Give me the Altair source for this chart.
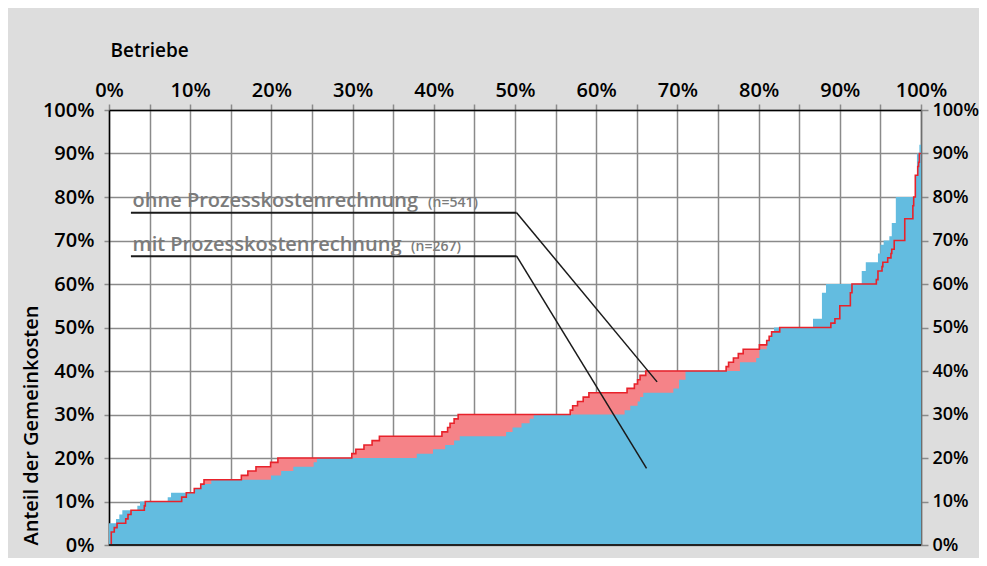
import altair as alt
import pandas as pd

# ---- data ----
# "ohne Prozesskostenrechnung" (red), step positions: share of companies (%) -> share of overhead (%)
red_x = [0, 0.28, 0.65, 0.99, 2.06, 2.34, 2.71, 4.35, 4.47, 8.95, 9.52, 10.5, 11.3, 11.7,
         16.3, 17.1, 18.1, 19.9, 20.8, 29.9, 30.4, 31.4, 32.4, 33.3, 41.0, 41.7, 42.0, 42.5,
         43.0, 56.8, 57.1, 57.7, 58.4, 59.1, 63.8, 64.7, 65.1, 65.4, 66.1, 76.0, 76.3, 76.9,
         77.5, 78.1, 80.1, 81.0, 81.3, 81.6, 82.6, 88.9, 89.4, 90.0, 91.3, 91.5, 94.5, 94.7,
         95.2, 95.3, 95.9, 96.3, 96.4, 96.7, 98.0, 99.0, 99.1, 99.3, 99.6, 99.7, 99.8, 100]
red_y = [0, 3, 4, 5, 6, 7, 8, 9, 10, 11, 12, 13, 14, 15,
         16, 17, 18, 19, 20, 21, 22, 23, 24, 25, 26, 27, 28, 29,
         30, 31, 32, 33, 34, 35, 36, 37, 38, 39, 40, 41, 42, 43,
         44, 45, 46, 47, 48, 49, 50, 51, 52, 55, 58, 60, 61, 63,
         64, 65, 66, 67, 68, 70, 75, 78, 80, 85, 87, 88, 90, 90]

# "mit Prozesskostenrechnung" (blue)
blue_x = [0, 0.86, 1.27, 1.64, 3.49, 3.82, 7.23, 7.64, 10.5, 11.3, 12.6, 19.95, 21.2, 22.7,
          25.2, 25.6, 37.9, 39.9, 41.4, 42.5, 43.2, 48.9, 49.7, 50.8, 51.8, 52.3, 63.5, 64.2,
          65.1, 65.4, 65.8, 69.5, 70.2, 71.0, 77.7, 79.7, 80.1, 81.0, 81.3, 81.6, 81.9, 86.7,
          87.8, 88.3, 92.7, 93.2, 94.7, 95.0, 95.4, 96.1, 96.4, 96.9, 99.3, 99.5, 99.8, 100]
blue_y = [5, 6, 7, 8, 9, 10, 11, 12, 13, 14, 15, 16, 17, 18,
          19, 20, 21, 22, 23, 24, 25, 26, 27, 28, 29, 30, 31, 32,
          33, 34, 35, 36, 38, 40, 42, 43, 45, 47, 48, 49, 50, 52,
          58, 60, 63, 65, 67, 69, 70, 71, 74, 80, 85, 90, 92, 92]

x_ticks = list(range(0, 101, 5))
y_ticks = list(range(0, 101, 10))

labels = ["ohne Prozesskostenrechnung", "mit Prozesskostenrechnung"]
counts = ["(n=541)", "(n=267)"]
label_x = [2.9, 2.9]
label_y = [77.8, 67.7]
count_x = [39.3, 37.2]
line_x = [2.7, 2.7]
line_x2 = [50.2, 50.2]
line_y = [76.4, 66.4]
pointer_x = [67.5, 66.2]
pointer_y = [37.5, 17.6]

# ---- styles ----
FONT = "Open Sans"
GRID = "#8a8a8a"
RED_FILL = "#f58388"
RED_LINE = "#e8222b"
BLUE = "#63bce0"

ohne = pd.DataFrame({"x": red_x, "y": red_y})
mit = pd.DataFrame({"x": blue_x, "y": blue_y})
ann = pd.DataFrame({"label": labels, "count": counts, "lx": label_x, "ly": label_y,
                    "cx": count_x, "x": line_x, "x2": line_x2, "y": line_y,
                    "px": pointer_x, "py": pointer_y})

xscale = alt.Scale(domain=[0, 100], nice=False, zero=False)
yscale = alt.Scale(domain=[0, 100], nice=False, zero=False)

x_axis = alt.Axis(orient="top", values=x_ticks,
                  labelExpr="datum.value % 10 == 0 ? datum.value + '%' : ''",
                  labelFlush=False, labelOverlap=False, labelPadding=4,
                  labelFont=FONT, labelFontSize=20, labelFontWeight=600, labelColor="black",
                  tickSize=6, tickColor=GRID, tickWidth=1.5,
                  grid=True, gridColor=GRID, gridWidth=1.5,
                  domainColor="black", domainWidth=1.5,
                  title="Betriebe", titleFont=FONT, titleFontSize=19, titleFontWeight=600,
                  titleColor="black", titleAlign="left", titleBaseline="alphabetic",
                  titleX=1, titleY=-54, titleAnchor="start")

y_axis_left = alt.Axis(orient="left", values=y_ticks,
                       labelExpr="datum.value + '%'",
                       labelFlush=False, labelOverlap=False, labelPadding=10,
                       labelFont=FONT, labelFontSize=20, labelFontWeight=600, labelColor="black",
                       tickSize=5, tickColor=GRID, tickWidth=1.5,
                       grid=True, gridColor=GRID, gridWidth=1.5,
                       domainColor="black", domainWidth=1.5,
                       title="Anteil der Gemeinkosten", titleFont=FONT, titleFontSize=20,
                       titleFontWeight=600, titleColor="black", titleAngle=270,
                       titleAlign="left", titleBaseline="middle", titleX=-78, titleY=435)

y_axis_right = alt.Axis(orient="right", values=y_ticks,
                        labelExpr="datum.value + '%'",
                        labelFlush=False, labelOverlap=False, labelPadding=4,
                        labelFont=FONT, labelFontSize=18, labelFontWeight=600, labelColor="black",
                        tickSize=7, tickColor=GRID, tickWidth=1.5,
                        grid=False, domainColor="#6e6e6e", domainWidth=1.5, title=None)


def X(field):
    return alt.X(field, type="quantitative", scale=xscale, axis=x_axis)


red_area = alt.Chart(ohne).mark_area(interpolate="step-after", color=RED_FILL, opacity=1).encode(
    x=X("x"),
    y=alt.Y("y:Q", scale=yscale, axis=y_axis_left),
)

blue_area = alt.Chart(mit).mark_area(interpolate="step-after", color=BLUE, opacity=1).encode(
    x=X("x"),
    y=alt.Y("y:Q", scale=yscale, axis=y_axis_right),
)

red_line = alt.Chart(ohne).mark_line(interpolate="step-after", color=RED_LINE, strokeWidth=1.6).encode(
    x=X("x"),
    y=alt.Y("y:Q", scale=yscale, axis=None),
)

bottom = alt.Chart(pd.DataFrame({"y": [0]})).mark_rule(color="#222222", strokeWidth=2).encode(
    y=alt.Y("y:Q", scale=yscale, axis=None),
)

underline = alt.Chart(ann).mark_rule(color="#1a1a1a", strokeWidth=2).encode(
    x=X("x"), x2="x2:Q",
    y=alt.Y("y:Q", scale=yscale, axis=None), y2="y:Q",
)

pointer = alt.Chart(ann).mark_rule(color="#1a1a1a", strokeWidth=1.5).encode(
    x=X("x2"), x2="px:Q",
    y=alt.Y("y:Q", scale=yscale, axis=None), y2="py:Q",
)

label_text = alt.Chart(ann).mark_text(align="left", baseline="alphabetic", font=FONT,
                                      fontSize=20, fontWeight=600, color="#7b7b7b").encode(
    x=X("lx"),
    y=alt.Y("ly:Q", scale=yscale, axis=None),
    text="label:N",
)

count_text = alt.Chart(ann).mark_text(align="left", baseline="alphabetic", font=FONT,
                                      fontSize=14, fontWeight=600, color="#7b7b7b").encode(
    x=X("cx"),
    y=alt.Y("ly:Q", scale=yscale, axis=None),
    text="count:N",
)

chart = alt.layer(red_area, blue_area, red_line, bottom, underline, pointer, label_text, count_text).resolve_axis(
    y="independent"
).properties(
    width=812, height=435,
    padding={"left": 101, "top": 102, "right": 58, "bottom": 13},
    autosize=alt.AutoSizeParams(type="none"),
    background="#dddddd",
).configure_view(stroke=None, fill="white")

chart.save("out.html", embed_options={"renderer": "svg", "actions": False})
